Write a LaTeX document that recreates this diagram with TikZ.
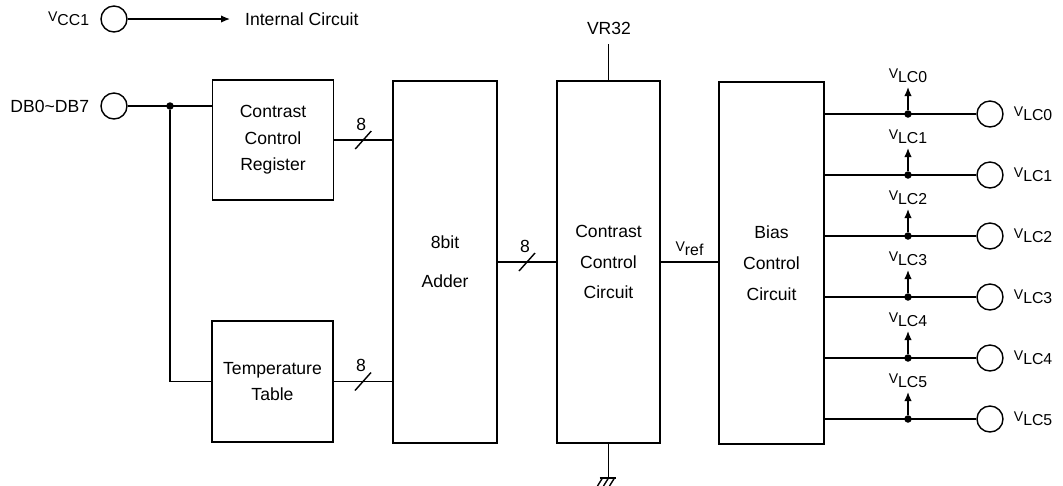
\documentclass[tikz,border=0pt]{standalone}
\usepackage{fontspec}
\setmainfont{Liberation Sans}
\usepackage{tikz}
\usetikzlibrary{arrows.meta,positioning,calc}
\newcommand\vsub[1]{{\footnotesize V}\raisebox{-2.4pt}{\small #1}}

\begin{document}
\begin{tikzpicture}[
  x=0.02cm,y=-0.02cm,
  blk/.style={draw,thick,align=center,inner sep=0pt,font=\fontsize{10}{15}\selectfont},
  pin/.style={circle,draw,thick,minimum size=5.2mm,inner sep=0pt},
  dot/.style={circle,fill,inner sep=0pt,minimum size=1.5mm},
  lbl/.style={font=\fontsize{10}{12}\selectfont},
  w/.style={draw,thick},
  arr/.style={draw,thick,-{Latex[length=1.8mm,width=1.5mm]}}
]
\useasboundingbox (0,0) rectangle (1063,485);
\node[blk,minimum width=2.42cm,minimum height=2.40cm] (ccr) at (273,140) {Contrast\\Control\\Register};
\node[blk,minimum width=2.42cm,minimum height=2.42cm] (tt) at (272.5,381.5) {Temperature\\Table};
\node[blk,minimum width=2.08cm,minimum height=7.24cm,font=\fontsize{10}{22}\selectfont] (add) at (445,262) {8bit\\Adder};
\node[blk,minimum width=2.06cm,minimum height=7.24cm,font=\fontsize{10}{17.5}\selectfont] (ccc) at (608.5,262) {Contrast\\Control\\Circuit};
\node[blk,minimum width=2.10cm,minimum height=7.24cm,font=\fontsize{10}{17.5}\selectfont] (bias) at (771.5,263) {Bias\\Control\\Circuit};
\node[pin] (vcc) at (114,19) {};
\node[lbl,left=0.1cm of vcc] (lvcc) {\vsub{CC1}};
\node[lbl,anchor=west] (ic) at (239,19) {Internal Circuit};
\draw[arr] (vcc) -- ([xshift=-0.18cm]ic.west);
\node[pin] (db) at (114,106) {};
\node[lbl,left=0.1cm of db] (ldb) {DB0\textasciitilde DB7};
\node[dot] (j) at (170,106) {};
\draw[w] (db) -- (db -| ccr.west);
\draw[w] (j) |- (tt.west);
\draw[w] (ccr.east) -- coordinate[midway] (s1) (ccr.east -| add.west);
\draw[w] (tt.east) -- coordinate[midway] (s2) (tt.east -| add.west);
\draw[w] (add.east) -- coordinate[midway] (s3) (add.east -| ccc.west);
\foreach \s in {s1,s2,s3} {
  \draw[w] ($(\s)+(-8,9)$) -- ($(\s)+(8,-9)$);
  \node[lbl] (n\s) at ($(\s)+(-2,-16)$) {8};
}
\draw[w] (ccc.east) -- node[lbl,midway,above] (vref) {\vsub{ref}} (ccc.east -| bias.west);
\node[lbl] (vr) at (609,28) {VR32};
\draw[w] (ccc.north) -- ($(ccc.north)+(0,-36)$);
\coordinate (g) at (608.5,478);
\draw[w] (ccc.south) -- (g);
\draw[w] ($(g)+(-9,0)$) -- ($(g)+(7,0)$);
\foreach \dx in {-6,0,6} \draw[w] ($(g)+(\dx,0)$) -- ++(-5,8);
\foreach \i in {0,...,5} {
  \pgfmathsetmacro\yy{114+61*\i}
  \node[pin] (o\i) at (990,\yy) {};
  \node[lbl,right=0.08cm of o\i] (lo\i) {\vsub{LC\i}};
  \node[dot] (d\i) at (908,\yy) {};
  \draw[w] (bias.east |- o\i) -- (o\i);
  \draw[arr] (d\i) -- ++(0,-27) node[lbl,above,inner sep=2pt] (la\i) {\vsub{LC\i}};
}
\end{tikzpicture}
\end{document}
